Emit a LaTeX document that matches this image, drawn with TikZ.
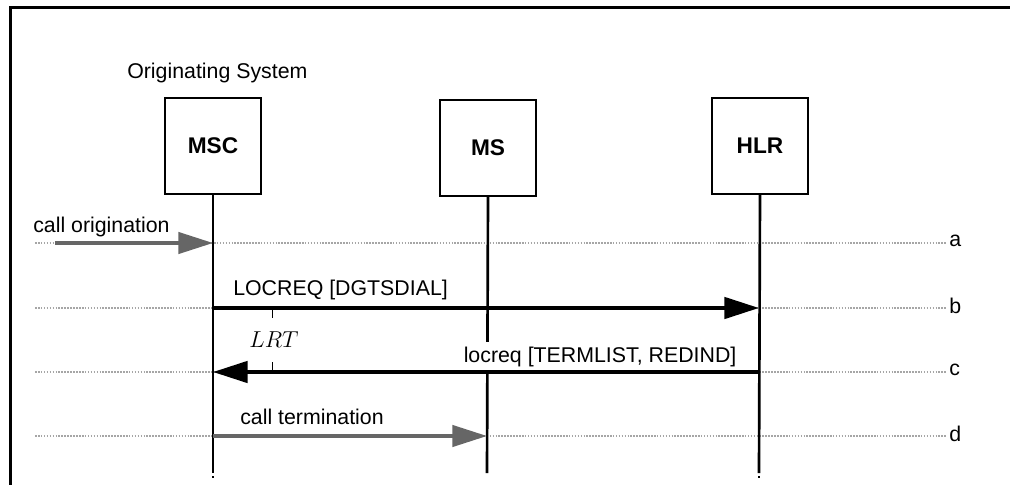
\documentclass[tikz,border=0pt]{standalone}
\usepackage{fontspec}
\setmainfont{Liberation Sans}
\usetikzlibrary{arrows.meta}
\usetikzlibrary{positioning}

\begin{document}
\begin{tikzpicture}[x=0.75pt,y=-0.75pt,
  entity/.style={draw,line width=1.6pt,minimum width=72pt,minimum height=72pt,inner sep=0pt,font=\fontsize{17}{20}\selectfont\bfseries},
  lifeline/.style={line width=2pt},
  stepline/.style={draw=gray!70,line width=1.2pt,densely dotted},
  msg/.style={line width=2.8pt,-{Triangle[length=26pt,width=16pt]}},
  extmsg/.style={msg,line width=2.5pt,draw=black!60,fill=black!60},
  lbl/.style={inner sep=0pt,font=\fontsize{16}{19}\selectfont}]
\useasboundingbox (0,0) rectangle (1010,485);
\draw[line width=2.4pt] (10.5,485) -- (10.5,7.5) -- (1012,7.5);

\node[lbl,anchor=west] (orig) at (127,73) {Originating System};
\node[entity] (msc) at (213,146) {MSC};
\node[entity] (ms) at (488,148) {MS};
\node[entity] (hlr) at (760,146) {HLR};

% step lines a..d
\foreach \s/\y in {a/243,b/308,c/372,d/436}{
  \coordinate (\s-l) at (35,\y);
  \coordinate (\s-r) at (947,\y);
  \draw[stepline] (\s-l) -- (\s-r);
  \node[lbl,anchor=west] (\s) at (949,\y-2) {\s};
}

\coordinate (msc-end) at (213,473);
\coordinate (ms-end) at (487,473);
\coordinate (hlr-end) at (759,473);
\draw[lifeline] (msc.south) -- (msc-end);
\draw[lifeline] (ms.south) -- (ms-end);
\draw[lifeline] (hlr.south) -- (hlr-end);
\draw[line width=1pt] (212,477) -- (214,477);
\draw[line width=1pt] (758,477) -- (760,477);

% messages
\coordinate (src) at (55,243);
\node[lbl,anchor=west] (l-orig) at (33,227) {call origination};
\draw[extmsg] (src) -- (msc-end |- a-l);

\node[lbl,anchor=west] (l-locreq) at (233,290) {LOCREQ [DGTSDIAL]};
\draw[msg] (msc-end |- b-l) -- (hlr-end |- b-l);

\node[lbl,anchor=east,fill=white,inner xsep=1pt,inner ysep=4pt] (l-resp) at (738,357) {locreq [TERMLIST, REDIND]};
\draw[msg] (hlr-end |- c-l) -- (msc-end |- c-l);

\node[lbl,anchor=west] (l-term) at (240,417) {call termination};
\draw[extmsg] (msc-end |- d-l) -- (ms-end |- d-l);

% LRT timer
\coordinate (t1) at (272,309);
\coordinate (t2) at (272,371);
\node[inner sep=0pt,font=\fontsize{18}{21}\selectfont] (lrt) at (274,340) {$LRT$};
\draw[line width=0.6pt] (t1) -- ++(0,9);
\draw[line width=0.6pt] (t2) -- ++(0,-9);
\end{tikzpicture}
\end{document}
